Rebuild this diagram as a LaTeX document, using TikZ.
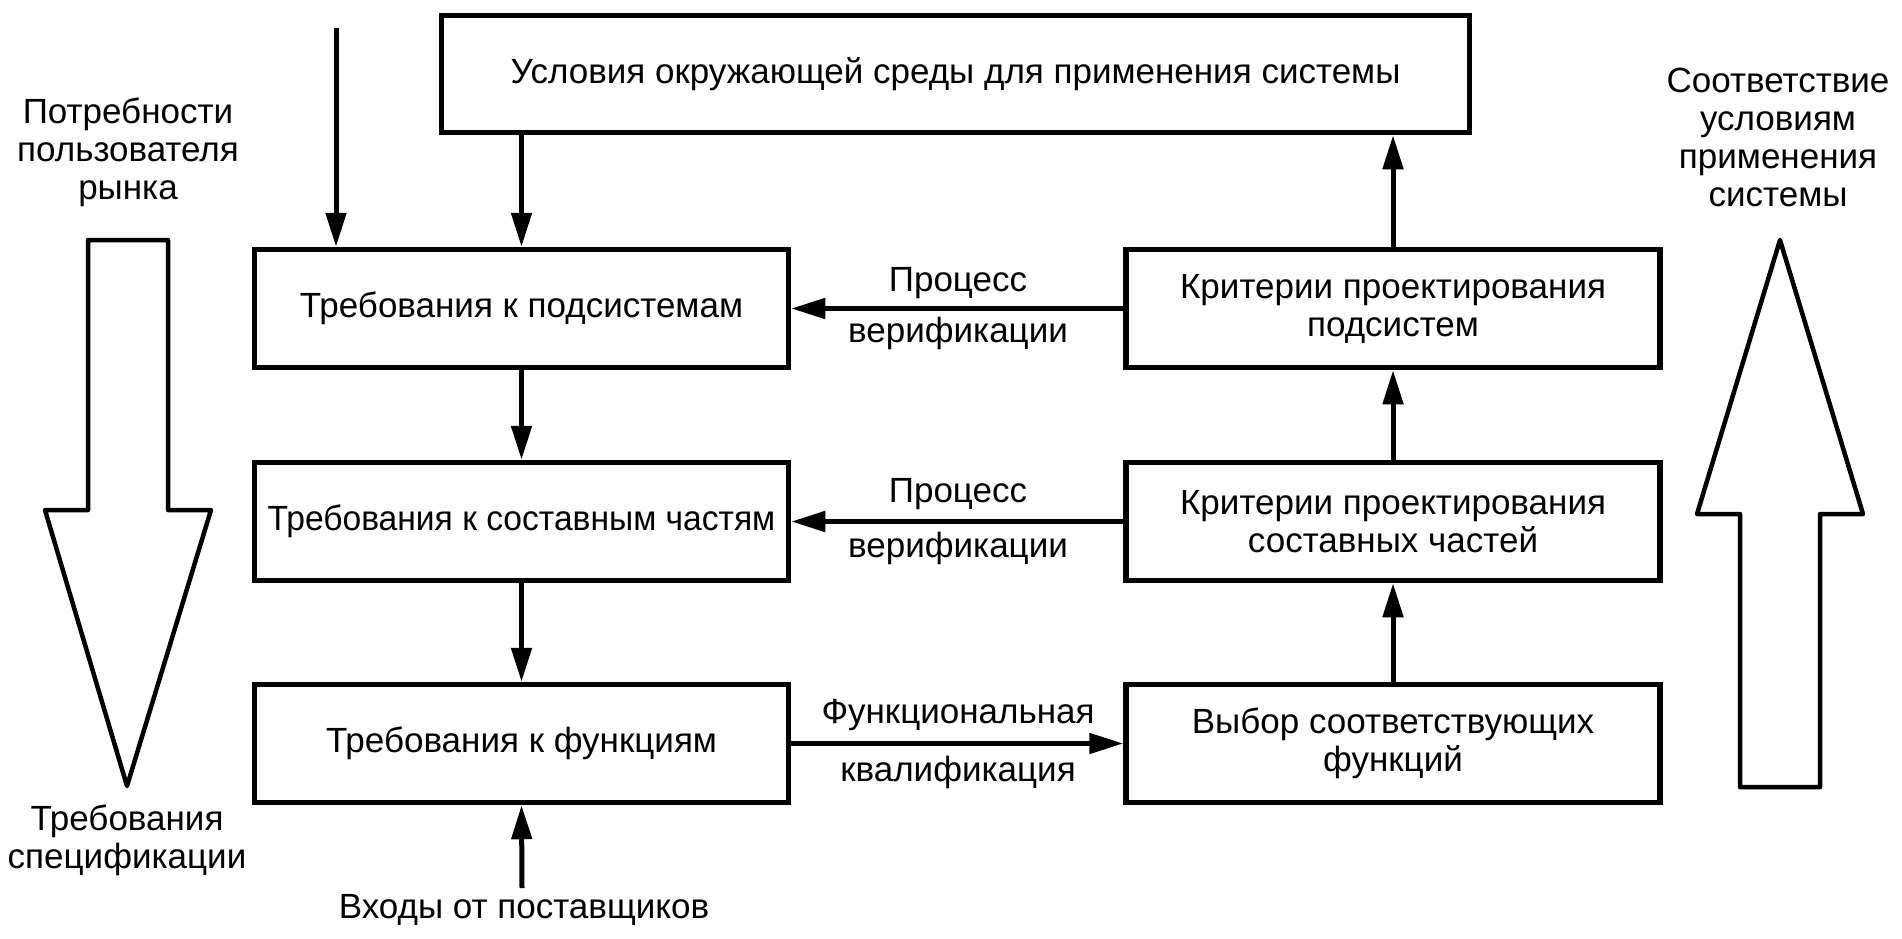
\documentclass[tikz,border=0pt]{standalone}
\usepackage{fontspec}
\usepackage{graphicx}
\setmainfont{Liberation Sans}
\usetikzlibrary{arrows.meta}

\begin{document}
\begin{tikzpicture}[x=1pt,y=-1pt,
        every node/.style={font=\fontsize{35}{38}\selectfont,align=center},
        box/.style={draw,line width=5.5pt,minimum width=534pt,minimum height=118pt,inner sep=0pt},
        conn/.style={line width=5pt,-{Triangle[length=34pt,width=20pt]}},
        bigarrow/.style={line width=4.5pt,line join=round}]
        \useasboundingbox (0,0) rectangle (1902,938);

        \node[box,minimum width=1028pt,minimum height=117pt] (env) at (955.5,74) {Условия окружающей среды для применения системы};
        \node[box] (sub) at (521.5,308.5) {Требования к подсистемам};
        \node[box] (part) at (521.5,521.5) {\scalebox{0.96}[1]{Требования к составным частям}};
        \node[box] (fun) at (521.5,743.5) {Требования к функциям};
        \node[box] (crsub) at (1393,308.5) {Критерии проектирования\\подсистем};
        \node[box] (crpart) at (1393,521.5) {Критерии проектирования\\составных частей};
        \node[box] (sel) at (1393,743.5) {Выбор соответствующих\\функций};

        \node (ver1) at (958,283) {Процесс};
        \node (ver2) at (958,333) {верификации};
        \node (ver3) at (958,494) {Процесс};
        \node (ver4) at (958,548) {верификации};
        \node (qual1) at (958,715) {Функциональная};
        \node (qual2) at (958,772) {квалификация};

        \node (needs) at (128,152) {Потребности\\пользователя\\рынка};
        \node (spec) at (127,840) {Требования\\спецификации};
        \node (conf) at (1778,137) {Соответствие\\условиям\\применения\\системы};
        \node (inputs) at (524,910) {Входы от поставщиков};

        \coordinate (mkt) at (336,28);
        \coordinate (inp) at (522,888);

        \draw[conn] (mkt) -- (mkt |- sub.north);
        \draw[conn] (env.south -| sub.north) -- (sub.north);
        \draw[conn] (inp) -- (fun.south);
        \draw[conn] (crsub.north) -- (crsub.north |- env.south);
        \foreach \a/\b in {sub/part,part/fun,sel/crpart,crpart/crsub,crsub/sub,crpart/part,fun/sel}{
            \draw[conn] (\a) -- (\b);
        }

        % big arrows
        \draw[bigarrow] (88,240) -- (168,240) -- (168,510) -- (211,510) -- (127,786) -- (45,510) -- (88,510) -- cycle;
        \draw[bigarrow] (1740,787) -- (1820,787) -- (1820,514) -- (1863,514) -- (1780,240) -- (1697,514) -- (1740,514) -- cycle;

    \end{tikzpicture}
\end{document}
